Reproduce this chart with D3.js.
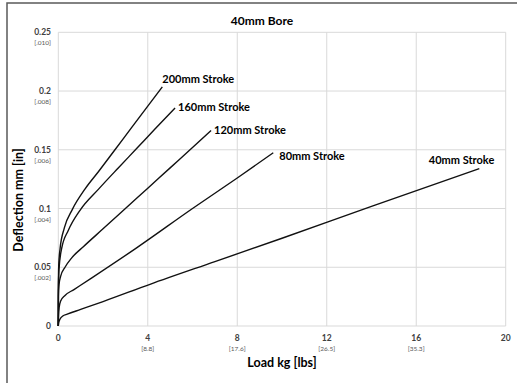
<!DOCTYPE html>
<html>
<head>
<meta charset="utf-8">
<script src="https://cdn.jsdelivr.net/npm/d3@7"></script>
<style>
  body { margin: 0; background: #fff; }
  text { font-family: Lato, "Open Sans", sans-serif; }
</style>
</head>
<body>
<div class="chart"></div>
<script>
// chart size
var width = 517;
var height = 383;

// data (load kg, deflection mm)
var strokes = ["200mm Stroke", "160mm Stroke", "120mm Stroke", "80mm Stroke", "40mm Stroke"];
var load200 = [0, 0.003, 0.02, 0.08, 0.27, 0.63, 1.19, 1.8, 2.5, 3.3, 4, 4.65];
var defl200 = [0, 0.03, 0.052, 0.066, 0.0835, 0.0993, 0.1165, 0.1315, 0.1492, 0.1695, 0.1872, 0.2035];
var load160 = [0, 0.004, 0.03, 0.15, 0.45, 0.97, 1.8, 2.68, 3.5, 4.3, 5.22];
var defl160 = [0, 0.03, 0.048, 0.066, 0.0815, 0.0985, 0.1165, 0.1345, 0.151, 0.1672, 0.1855];
var load120 = [0, 0.005, 0.03, 0.1, 0.3, 0.6, 1.12, 2, 3, 4, 5, 6, 6.83];
var defl120 = [0, 0.025, 0.035, 0.042, 0.05, 0.058, 0.0675, 0.0827, 0.1, 0.1173, 0.1346, 0.1519, 0.1664];
var load80 = [0, 0.01, 0.04, 0.1, 0.3, 0.7, 1.5, 3.5, 6, 8, 9.61];
var defl80 = [0, 0.008, 0.016, 0.021, 0.026, 0.031, 0.041, 0.0665, 0.1, 0.126, 0.1475];
var load40 = [0, 0.02, 0.08, 0.2, 0.4, 1, 2, 4.1, 7, 10, 14, 18.82];
var defl40 = [0, 0.003, 0.006, 0.0085, 0.0101, 0.0141, 0.0208, 0.0355, 0.0548, 0.0747, 0.1018, 0.134];

var xTicks = [0, 4, 8, 12, 16, 20];
var xTicksLbs = ["", "[8.8]", "[17.6]", "[26.5]", "[35.3]", ""];
var yTicks = [0, 0.05, 0.1, 0.15, 0.2, 0.25];
var yTicksIn = ["", "[.002]", "[.004]", "[.006]", "[.008]", "[.010]"];

var loads = [load200, load160, load120, load80, load40];
var defls = [defl200, defl160, defl120, defl80, defl40];

// label placement relative to curve end (px)
var labelDx = [0, 3, 3, 6, 15];
var labelDy = [-8, -1, 0, 3, -8];
var labelAnchor = ["start", "start", "start", "start", "end"];

var gridColor = "#d9d9d9";

var xScale = d3.scaleLinear().domain([0, 20]).range([58.3, 505.7]);
var yScale = d3.scaleLinear().domain([0, 0.25]).range([326, 32.3]);

var svg = d3.select(".chart")
            .append("svg")
            .attr("width", width)
            .attr("height", height);

// outer frame
svg.append("rect")
   .attr("x", 7)
   .attr("y", 3)
   .attr("width", width + 10)
   .attr("height", height + 10)
   .attr("fill", "#fff")
   .attr("stroke", "#5a5a5a")
   .attr("stroke-width", 1.5);

// grid
svg.selectAll(".vgrid")
   .data(xTicks)
   .enter()
   .append("line")
   .attr("x1", d => xScale(d))
   .attr("x2", d => xScale(d))
   .attr("y1", yScale(0))
   .attr("y2", yScale(0.25))
   .attr("stroke", gridColor)
   .attr("stroke-width", 1);

svg.selectAll(".hgrid")
   .data(yTicks)
   .enter()
   .append("line")
   .attr("x1", xScale(0))
   .attr("x2", xScale(20))
   .attr("y1", d => yScale(d))
   .attr("y2", d => yScale(d))
   .attr("stroke", gridColor)
   .attr("stroke-width", 1);

// tick labels
svg.selectAll(".xtick")
   .data(xTicks)
   .enter()
   .append("text")
   .attr("x", d => xScale(d))
   .attr("y", 341)
   .attr("text-anchor", "middle")
   .attr("fill", "#404040")
   .style("font-size", "8.5px")
   .style("font-weight", "bold")
   .text(d => d);

svg.selectAll(".xtick2")
   .data(xTicks)
   .enter()
   .append("text")
   .attr("x", d => xScale(d))
   .attr("y", 351)
   .attr("text-anchor", "middle")
   .attr("fill", "#595959")
   .style("font-size", "6.5px")
   .text((d, i) => xTicksLbs[i]);

svg.selectAll(".ytick")
   .data(yTicks)
   .enter()
   .append("text")
   .attr("x", 51)
   .attr("y", d => yScale(d) + 3)
   .attr("text-anchor", "end")
   .attr("fill", "#404040")
   .style("font-size", "8.5px")
   .style("font-weight", "bold")
   .text(d => d);

svg.selectAll(".ytick2")
   .data(yTicks)
   .enter()
   .append("text")
   .attr("x", 51)
   .attr("y", d => yScale(d) + 13)
   .attr("text-anchor", "end")
   .attr("fill", "#595959")
   .style("font-size", "6.5px")
   .text((d, i) => yTicksIn[i]);

// curves
var line = d3.line()
             .x(d => xScale(d[0]))
             .y(d => yScale(d[1]))
             .curve(d3.curveMonotoneX);

strokes.forEach((s, k) => {
  var pts = loads[k].map((v, i) => [v, defls[k][i]]);
  svg.append("path")
     .datum(pts)
     .attr("d", line)
     .attr("fill", "none")
     .attr("stroke", "#111")
     .attr("stroke-width", 1.4);

  var last = pts[pts.length - 1];
  svg.append("text")
     .attr("x", xScale(last[0]) + labelDx[k])
     .attr("y", yScale(last[1]) + labelDy[k])
     .attr("dy", "0.35em")
     .attr("text-anchor", labelAnchor[k])
     .style("font-size", "11px")
     .style("font-weight", "bold")
     .attr("fill", "#000")
     .text(s);
});

// title and axis labels
svg.append("text")
   .attr("x", 262)
   .attr("y", 21)
   .attr("dy", "0.35em")
   .attr("text-anchor", "middle")
   .style("font-size", "12px")
   .style("font-weight", "bold")
   .text("40mm Bore");

svg.append("text")
   .attr("x", 282)
   .attr("y", 363)
   .attr("dy", "0.35em")
   .attr("text-anchor", "middle")
   .style("font-size", "12.5px")
   .style("font-weight", "bold")
   .text("Load kg [lbs]");

svg.append("text")
   .attr("transform", "translate(19,200) rotate(-90)")
   .attr("dy", "0.35em")
   .attr("text-anchor", "middle")
   .style("font-size", "12.5px")
   .style("font-weight", "bold")
   .text("Deflection mm [in]");
</script>
</body>
</html>
